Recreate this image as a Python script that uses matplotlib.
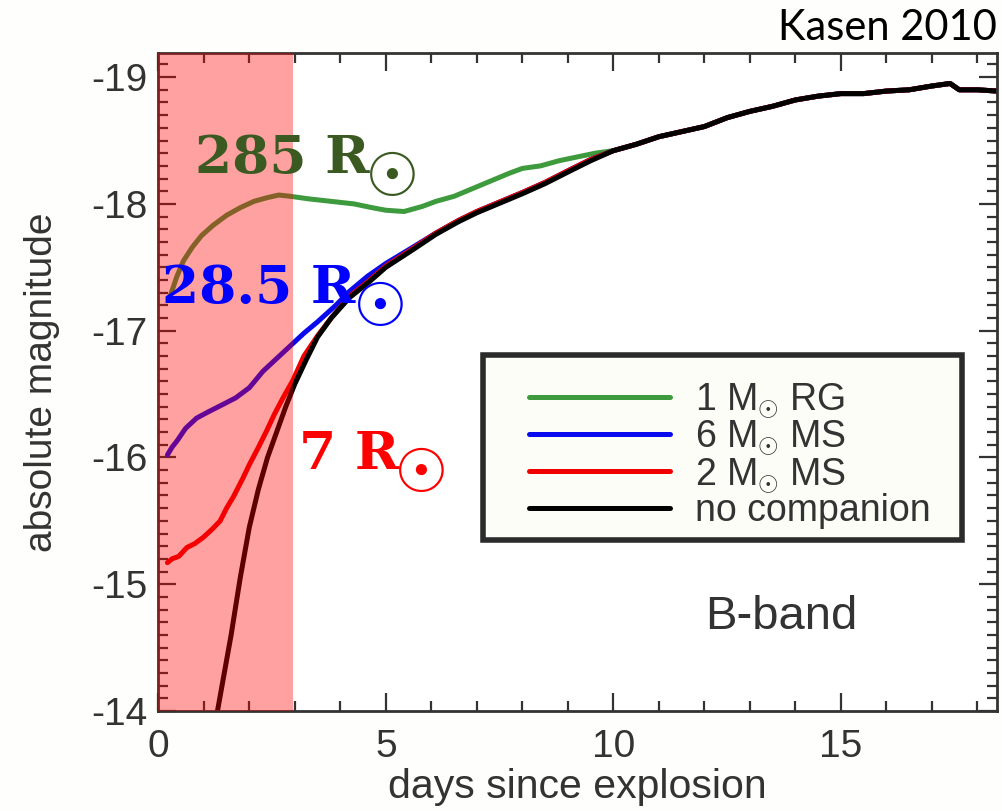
import matplotlib
matplotlib.use("Agg")
import matplotlib.pyplot as plt
from matplotlib.ticker import MultipleLocator
from matplotlib.patches import Rectangle

# ---------------- data ----------------
tail_days = [10.0, 10.5, 11.0, 11.5, 12.0, 12.5, 13.0, 13.5, 14.0, 14.5,
             15.0, 15.5, 16.0, 16.5, 17.0, 17.4, 17.6, 18.0, 18.43]
tail_mag = [-18.42, -18.47, -18.53, -18.57, -18.61, -18.68, -18.73, -18.77, -18.82, -18.85,
            -18.87, -18.87, -18.89, -18.90, -18.93, -18.95, -18.90, -18.90, -18.89]

rg_days = [0.25, 0.4, 0.55, 0.75, 0.95, 1.2, 1.5, 1.8, 2.1, 2.4, 2.65, 2.9, 3.3, 3.8,
           4.3, 4.7, 5.0, 5.4, 5.8, 6.1, 6.5, 6.9, 7.3, 7.7, 8.0, 8.4, 8.8, 9.2, 9.6]
rg_mag = [-17.26, -17.42, -17.55, -17.66, -17.75, -17.83, -17.91, -17.97, -18.02, -18.05,
          -18.07, -18.06, -18.04, -18.02, -18.00, -17.97, -17.95, -17.94, -17.98, -18.02,
          -18.06, -18.12, -18.18, -18.24, -18.28, -18.30, -18.34, -18.37, -18.40]

ms6_days = [0.2, 0.3, 0.41, 0.6, 0.84, 1.1, 1.43, 1.7, 2.0, 2.3, 2.6, 2.96, 3.2, 3.5,
            3.9, 4.2, 4.6, 5.0, 5.6, 6.1, 6.6, 7.0, 7.6, 8.0, 8.5, 9.05, 9.5]
ms6_mag = [-16.02, -16.08, -16.13, -16.23, -16.31, -16.36, -16.42, -16.47, -16.55, -16.68,
           -16.78, -16.90, -16.98, -17.07, -17.20, -17.31, -17.43, -17.53, -17.66, -17.77,
           -17.87, -17.94, -18.03, -18.09, -18.17, -18.27, -18.35]

ms2_days = [0.2, 0.3, 0.45, 0.63, 0.8, 0.99, 1.2, 1.36, 1.5, 1.65, 1.85, 2.01, 2.2, 2.38,
            2.55, 2.74, 2.96, 3.2, 3.5, 3.8, 4.2, 4.65, 5.0, 5.6, 6.1, 6.6, 7.0, 7.6, 8.0,
            8.5, 9.05, 9.5]
ms2_mag = [-15.17, -15.20, -15.22, -15.29, -15.32, -15.37, -15.44, -15.50, -15.60, -15.69,
           -15.83, -15.95, -16.08, -16.21, -16.34, -16.47, -16.61, -16.80, -16.96, -17.10,
           -17.27, -17.40, -17.51, -17.65, -17.77, -17.87, -17.94, -18.03, -18.09, -18.17,
           -18.27, -18.35]

none_days = [1.30, 1.45, 1.6, 1.8, 2.0, 2.2, 2.4, 2.6, 2.8, 3.0, 3.25, 3.5, 3.8, 4.2,
             4.65, 5.0, 5.6, 6.1, 6.6, 7.0, 7.6, 8.0, 8.5, 9.05, 9.5]
none_mag = [-14.0, -14.3, -14.6, -15.05, -15.45, -15.75, -16.0, -16.2, -16.4, -16.58,
            -16.77, -16.95, -17.10, -17.26, -17.39, -17.50, -17.64, -17.76, -17.86, -17.93,
            -18.02, -18.08, -18.16, -18.26, -18.34]

series_labels = [r"1 M$_{\odot}$ RG", r"6 M$_{\odot}$ MS", r"2 M$_{\odot}$ MS", "no companion"]
series_colors = ["#3d9a3d", "#0a0aee", "#f00000", "#000000"]
shade_range = [0.0, 2.95]

radius_labels = ["285 R", "28.5 R", "7 R"]
radius_colors = ["#3a5a22", "#0000ff", "#ff0000"]

xticks = [0, 5, 10, 15]
yticks = [-19, -18, -17, -16, -15, -14]

# ---------------- style ----------------
plt.rcParams['font.family'] = ['Liberation Sans', 'DejaVu Sans']
plt.rcParams['mathtext.fontset'] = 'custom'
plt.rcParams['mathtext.rm'] = 'Liberation Sans'
plt.rcParams['mathtext.it'] = 'Liberation Sans:italic'
plt.rcParams['mathtext.bf'] = 'Liberation Sans:bold'

ink = "#333333"

fig = plt.figure(figsize=(10.02, 8.11), dpi=100, facecolor="#fefefc")
ax = fig.add_axes([0.158, 0.1233, 0.837, 0.8113])
ax.set_facecolor("white")

curves = [(rg_days, rg_mag), (ms6_days, ms6_mag), (ms2_days, ms2_mag), (none_days, none_mag)]
for (d, m), lab, col in zip(curves, series_labels, series_colors):
    ax.plot(list(d) + tail_days, list(m) + tail_mag, color=col, lw=3.6,
            solid_capstyle='round', label=lab, zorder=2)

ax.axvspan(shade_range[0], shade_range[1], color="red", alpha=0.37, lw=0, zorder=3)

ax.set_xlim(0, 18.43)
ax.set_ylim(-14, -19.19)
ax.set_xticks(xticks)
ax.set_yticks(yticks)
ax.set_yticklabels([str(v) for v in yticks])
ax.xaxis.set_minor_locator(MultipleLocator(1))
ax.yaxis.set_minor_locator(MultipleLocator(0.1))
ax.tick_params(which='both', direction='in', top=True, right=True, color=ink, width=1.6)
ax.tick_params(which='major', length=13)
ax.tick_params(which='minor', length=7)
ax.tick_params(axis='x', which='major', labelsize=28, labelcolor=ink, pad=13)
ax.tick_params(axis='y', which='major', labelsize=28, labelcolor=ink, pad=8)
for s in ax.spines.values():
    s.set_color(ink)
    s.set_linewidth(2)

ax.set_xlabel("days since explosion", fontsize=29.5, color=ink, labelpad=2)
ax.set_ylabel("absolute magnitude", fontsize=28, color=ink, labelpad=22)

# legend frame drawn as a box, legend entries placed inside it
ax.add_patch(Rectangle((0.387, 0.260), 0.571, 0.281, transform=ax.transAxes,
                       facecolor="#fdfdf7", edgecolor="#2b2b2b", lw=4, zorder=4))
leg = ax.legend(loc='upper left', bbox_to_anchor=(0.442, 0.500), borderaxespad=0,
                fontsize=27, frameon=False, handlelength=3.75,
                handletextpad=0.68, labelspacing=-0.03, borderpad=0)
leg.set_zorder(5)
for t in leg.get_texts():
    t.set_color(ink)

ax.text(13.7, -14.74, "B-band", fontsize=34, color=ink, ha='center', va='center', zorder=6)

# radius labels
lab_kw = dict(family='DejaVu Serif', fontweight='bold', fontsize=38.5, va='baseline', zorder=6)
sun_kw = dict(family='DejaVu Sans', fontsize=44, ha='center', va='center', zorder=6)
ax.text(0.81, -18.24, radius_labels[0], color=radius_colors[0], **lab_kw)
ax.text(5.14, -18.19, "☉", color=radius_colors[0], **sun_kw)
ax.text(0.08, -17.22, radius_labels[1], color=radius_colors[1], **lab_kw)
ax.text(4.87, -17.17, "☉", color=radius_colors[1], **sun_kw)
ax.text(3.10, -15.91, radius_labels[2], color=radius_colors[2], **lab_kw)
ax.text(5.78, -15.86, "☉", color=radius_colors[2], **sun_kw)

fig.text(0.995, 0.951, "Kasen 2010", family=['Lato', 'DejaVu Sans'], fontsize=30,
         ha='right', va='baseline', color='black')

fig.savefig("out.png", dpi=100, facecolor=fig.get_facecolor())
